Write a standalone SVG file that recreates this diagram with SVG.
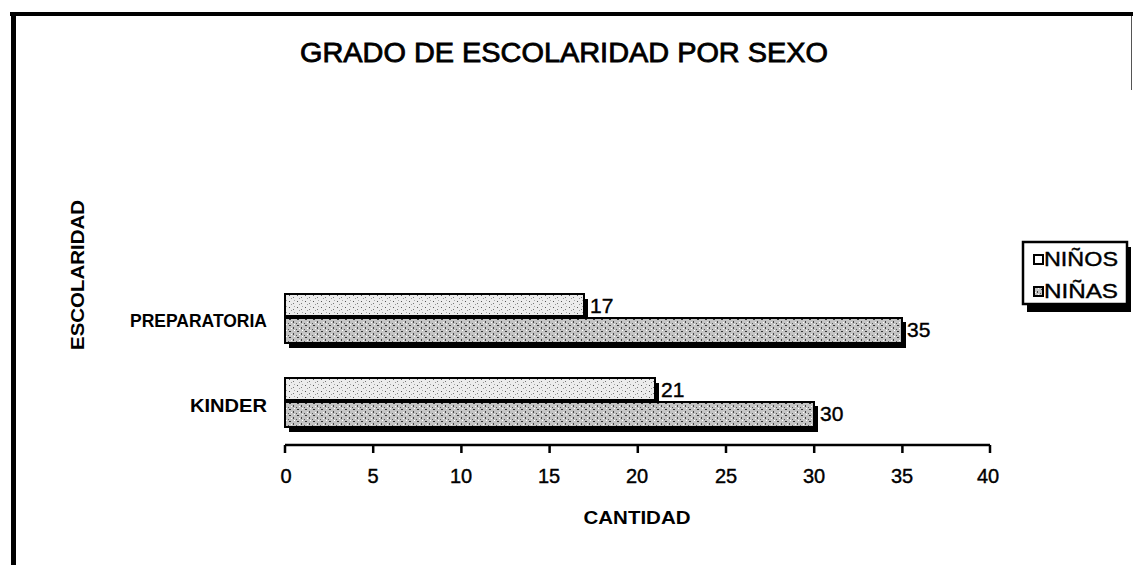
<svg xmlns="http://www.w3.org/2000/svg" width="1133" height="565" viewBox="0 0 1133 565">
<style>
text{font-family:"Liberation Sans",Arial,sans-serif;fill:#000}
.b{font-weight:bold}
.val{font-size:21px;stroke:#000;stroke-width:0.4}
.tick{font-size:20px;text-anchor:middle;stroke:#000;stroke-width:0.4}
.cat{font-size:19px;font-weight:bold;text-anchor:end}
.leg{font-size:20px;stroke:#000;stroke-width:0.4}
.bar{stroke:#000;stroke-width:2}
.shadow{fill:#000}
.ax{stroke:#000;stroke-width:2.5;fill:none}
</style>
<defs>
<pattern id="light" width="8" height="6" patternUnits="userSpaceOnUse">
<rect width="8" height="6" fill="#ececec"/>
<rect x="1" y="1" width="1" height="1" fill="#555"/>
<rect x="5" y="3" width="1" height="1" fill="#777"/>
<rect x="3" y="4" width="1" height="1" fill="#999"/>
<rect x="6" y="0" width="1" height="1" fill="#aaa"/>
</pattern>
<pattern id="dark" width="8" height="6" patternUnits="userSpaceOnUse">
<rect width="8" height="6" fill="#c4c4c4"/>
<rect x="1" y="1" width="2" height="1" fill="#333"/>
<rect x="5" y="3" width="1" height="2" fill="#444"/>
<rect x="3" y="4" width="1" height="1" fill="#fff"/>
<rect x="6" y="0" width="1" height="1" fill="#fff"/>
<rect x="0" y="5" width="1" height="1" fill="#555"/>
</pattern>
</defs>
<rect width="1133" height="565" fill="#fff"/>
<g id="frame">
<rect x="10" y="12" width="1123" height="4" fill="#000"/>
<rect x="11" y="12" width="5" height="553" fill="#000"/>
<line x1="1131.5" y1="16" x2="1131.5" y2="90" stroke="#555" stroke-width="1"/>
</g>
<g id="title"><text x="564" y="62" font-size="27" text-anchor="middle" textLength="528" lengthAdjust="spacingAndGlyphs" stroke="#000" stroke-width="0.8">GRADO DE ESCOLARIDAD POR SEXO</text></g>
<g id="ylabel"><text transform="translate(84,275) rotate(-90)" font-size="18" class="b" text-anchor="middle" textLength="150" lengthAdjust="spacingAndGlyphs">ESCOLARIDAD</text></g>
<g id="categories">
<text x="267" y="327" class="cat" textLength="137" lengthAdjust="spacingAndGlyphs">PREPARATORIA</text>
<text x="267" y="412" class="cat" textLength="77" lengthAdjust="spacingAndGlyphs">KINDER</text>
</g>
<g id="bars">
<g id="prep-ninos"><rect class="shadow" x="289" y="299" width="299" height="23"/><rect class="bar" x="285" y="294" width="299" height="22" fill="url(#light)"/><text x="590" y="313" class="val">17</text></g>
<g id="prep-ninas"><rect class="shadow" x="289" y="322" width="617" height="26"/><rect class="bar" x="285" y="318" width="617" height="25" fill="url(#dark)"/><text x="907" y="337" class="val">35</text></g>
<g id="kinder-ninos"><rect class="shadow" x="289" y="383" width="370" height="23"/><rect class="bar" x="285" y="378" width="370" height="22" fill="url(#light)"/><text x="661" y="397" class="val">21</text></g>
<g id="kinder-ninas"><rect class="shadow" x="289" y="406" width="529" height="26"/><rect class="bar" x="285" y="402" width="529" height="25" fill="url(#dark)"/><text x="820" y="421" class="val">30</text></g>
</g>
<g id="xaxis">
<path class="ax" d="M285 445 H990 M285 445 V453 M373.2 445 V453 M461.4 445 V453 M549.6 445 V453 M637.8 445 V453 M726 445 V453 M814.2 445 V453 M902.4 445 V453 M990 445 V453"/>
<text x="286" y="483" class="tick">0</text>
<text x="373" y="483" class="tick">5</text>
<text x="461" y="483" class="tick">10</text>
<text x="549" y="483" class="tick">15</text>
<text x="637" y="483" class="tick">20</text>
<text x="726" y="483" class="tick">25</text>
<text x="814" y="483" class="tick">30</text>
<text x="902" y="483" class="tick">35</text>
<text x="988" y="483" class="tick">40</text>
<text x="637" y="524" font-size="18" class="b" text-anchor="middle" textLength="107" lengthAdjust="spacingAndGlyphs">CANTIDAD</text>
</g>
<g id="legend">
<rect x="1027" y="247" width="104" height="65" fill="#000"/>
<rect x="1023" y="242" width="104" height="62" fill="#fff" stroke="#000" stroke-width="2.5"/>
<rect x="1034" y="255" width="9" height="9" fill="#fff" stroke="#000" stroke-width="2"/>
<text x="1044" y="266" class="leg" textLength="74" lengthAdjust="spacingAndGlyphs">NIÑOS</text>
<rect x="1034" y="287" width="9" height="9" fill="url(#dark)" stroke="#000" stroke-width="2"/>
<text x="1044" y="298" class="leg" textLength="74" lengthAdjust="spacingAndGlyphs">NIÑAS</text>
</g>
</svg>
